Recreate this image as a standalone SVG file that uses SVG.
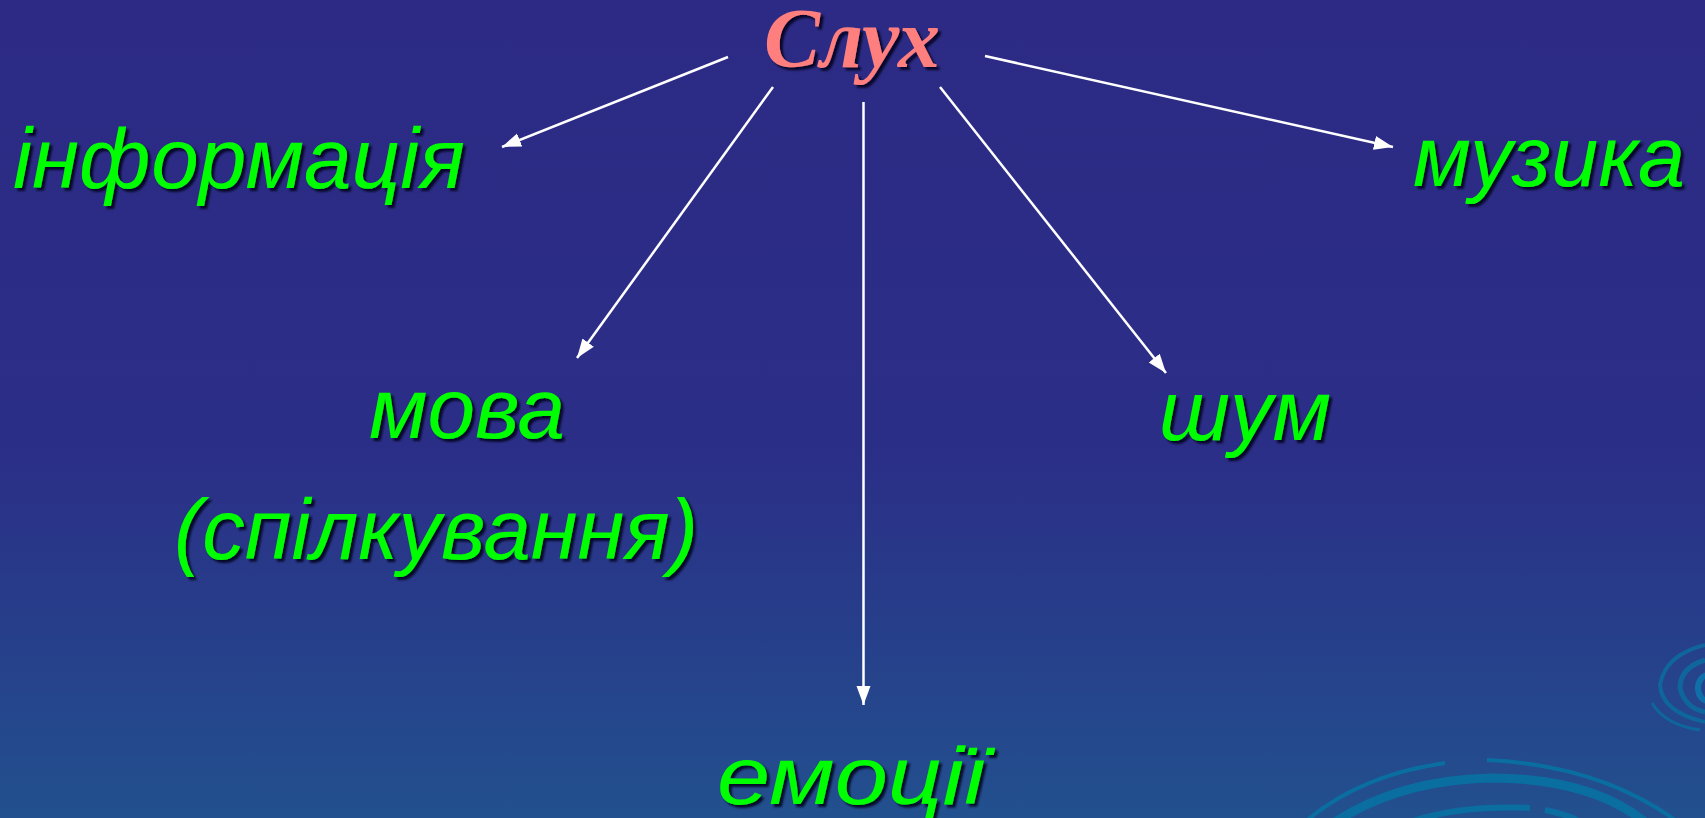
<svg xmlns="http://www.w3.org/2000/svg" width="1705" height="818" viewBox="0 0 1705 818">
<style>
.lbl{font-family:"Liberation Sans",Arial,sans-serif;font-style:italic;font-size:86px;fill:#00FF00;filter:url(#sh)}
.title{font-family:"Liberation Serif","Times New Roman",serif;font-style:italic;font-weight:bold;font-size:84px;fill:#FF7F7F;filter:url(#sh)}
.conn{stroke:#FFFFFF;stroke-width:2.5;fill:none;marker-end:url(#ah)}
.ring{fill:none;stroke:#0A6EA0}
</style>
<defs>
<linearGradient id="bg" x1="0" y1="0" x2="0" y2="1">
<stop offset="0" stop-color="#2C2A84"/>
<stop offset="0.55" stop-color="#2B2E87"/>
<stop offset="1" stop-color="#22508E"/>
</linearGradient>
<filter id="sh" x="-10%" y="-20%" width="130%" height="150%">
<feDropShadow dx="3" dy="3" stdDeviation="1.2" flood-color="#000018" flood-opacity="0.85"/>
</filter>
<marker id="ah" markerUnits="userSpaceOnUse" markerWidth="20" markerHeight="16" refX="19" refY="8" orient="auto">
<path d="M0,1 L19,8 L0,15 Z" fill="#FFFFFF"/>
</marker>
</defs>
<rect width="1705" height="818" fill="url(#bg)"/>
<g id="decor">
<path class="ring" stroke-width="4" d="M1305,822 Q1360,775 1445,763" />
<path class="ring" stroke-width="4" d="M1487,760 Q1600,765 1678,822" />
<path class="ring" stroke-width="9" d="M1335,822 Q1400,780 1490,778 Q1590,778 1645,822" />
<path class="ring" stroke-width="6" d="M1410,822 Q1460,805 1530,808" />
<path class="ring" stroke-width="6" d="M1545,810 Q1570,815 1580,822" />
<path class="ring" stroke-width="3" opacity="0.8" d="M1652,703 Q1665,725 1700,730" />
<path class="ring" stroke-width="4" opacity="0.8" d="M1705,645 Q1665,655 1660,685 Q1662,712 1705,722" />
<path class="ring" stroke-width="5" opacity="0.8" d="M1705,660 Q1680,668 1680,688 Q1685,708 1705,712" />
<ellipse cx="1708" cy="688" rx="10" ry="13" fill="none" stroke="#0A7AB0" stroke-width="6" opacity="0.8"/>
</g>
<g id="connectors">
<line class="conn" x1="728" y1="57" x2="502" y2="147"/>
<line class="conn" x1="773" y1="87" x2="577" y2="358"/>
<line class="conn" x1="863.5" y1="102" x2="863.5" y2="705"/>
<line class="conn" x1="940" y1="87" x2="1166" y2="373"/>
<line class="conn" x1="985" y1="56" x2="1393" y2="147"/>
</g>
<g id="node-sluh"><text class="title" x="852" y="67" text-anchor="middle">Слух</text></g>
<g id="node-informatsiia"><text class="lbl" x="13" y="188" textLength="452" lengthAdjust="spacingAndGlyphs">інформація</text></g>
<g id="node-muzyka"><text class="lbl" x="1413" y="186" textLength="272" lengthAdjust="spacingAndGlyphs">музика</text></g>
<g id="node-mova"><text class="lbl" x="369" y="438" textLength="196" lengthAdjust="spacingAndGlyphs">мова</text><text class="lbl" x="174" y="559" textLength="524" lengthAdjust="spacingAndGlyphs">(спілкування)</text></g>
<g id="node-shum"><text class="lbl" x="1159" y="440" textLength="172" lengthAdjust="spacingAndGlyphs">шум</text></g>
<g id="node-emotsii"><text class="lbl" x="717" y="804" style="font-size:82px" textLength="268" lengthAdjust="spacingAndGlyphs">емоції</text></g>
</svg>
